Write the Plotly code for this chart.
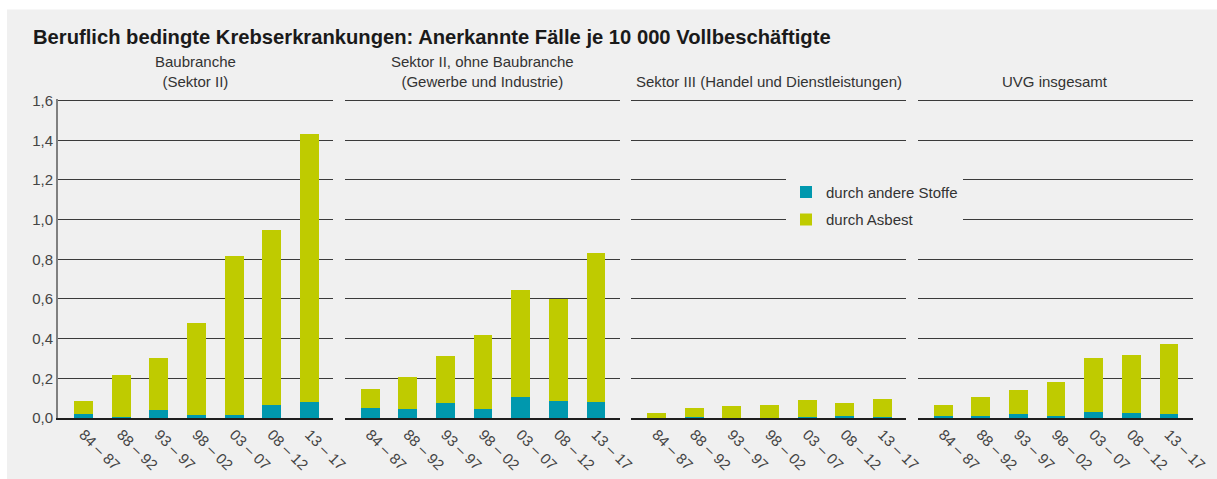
import plotly.graph_objects as go
from plotly.subplots import make_subplots

# Periods shown on each panel's x axis
periods = ["84 – 87", "88 – 92", "93 – 97", "98 – 02", "03 – 07", "08 – 12", "13 – 17"]

panel_titles = [
    "Baubranche<br>(Sektor II)",
    "Sektor II, ohne Baubranche<br>(Gewerbe und Industrie)",
    "Sektor III (Handel und Dienstleistungen)",
    "UVG insgesamt",
]

# Recognised cases per 10 000 full-time workers: other substances
andere_bau = [0.022, 0.005, 0.039, 0.015, 0.015, 0.066, 0.081]
andere_sek2 = [0.051, 0.044, 0.074, 0.044, 0.105, 0.085, 0.080]
andere_sek3 = [0.002, 0.004, 0.002, 0.002, 0.004, 0.010, 0.004]
andere_uvg = [0.012, 0.012, 0.022, 0.012, 0.032, 0.027, 0.022]

# Recognised cases per 10 000 full-time workers: asbestos
asbest_bau = [0.063, 0.211, 0.265, 0.466, 0.800, 0.884, 1.352]
asbest_sek2 = [0.094, 0.162, 0.238, 0.375, 0.542, 0.513, 0.753]
asbest_sek3 = [0.022, 0.045, 0.057, 0.062, 0.086, 0.064, 0.091]
asbest_uvg = [0.055, 0.096, 0.121, 0.172, 0.268, 0.289, 0.350]

andere_all = [andere_bau, andere_sek2, andere_sek3, andere_uvg]
asbest_all = [asbest_bau, asbest_sek2, asbest_sek3, asbest_uvg]

# a little headroom so the 1,6 gridline is still drawn
Y_RANGE = [0, 1.608]

TEAL = "#0098ae"
GREEN = "#bfcb00"
BG = "#f0f0f0"
GRID = "#3a3a3a"
FONT = "Liberation Sans"

W, H = 1217, 479
M_L, M_R, M_T, M_B = 58, 24, 99.4, 61
PW, PH = W - M_L - M_R, H - M_T - M_B

fig = make_subplots(rows=1, cols=4, shared_yaxes=True, horizontal_spacing=0.0097)

for i in range(4):
    fig.add_trace(
        go.Bar(
            x=periods, y=andere_all[i], marker_color=TEAL, marker_line_width=0,
            name="durch andere Stoffe", legendgroup="andere", showlegend=(i == 0),
        ),
        row=1, col=i + 1,
    )
    fig.add_trace(
        go.Bar(
            x=periods, y=asbest_all[i], marker_color=GREEN, marker_line_width=0,
            name="durch Asbest", legendgroup="asbest", showlegend=(i == 0),
        ),
        row=1, col=i + 1,
    )

fig.update_xaxes(
    type="category", range=[-0.68, 6.64], tickangle=45, ticks="",
    showgrid=False, showline=True, linecolor="#1e1e1e", linewidth=2,
    tickfont=dict(family=FONT, size=15, color="#444444"), automargin=False,
)
fig.update_yaxes(
    range=Y_RANGE, dtick=0.2, tickformat=".1f", ticks="",
    showgrid=True, gridcolor=GRID, gridwidth=1, zeroline=False,
    tickfont=dict(family=FONT, size=15, color="#444444"), automargin=False,
)
fig.update_yaxes(showline=True, linecolor="#808080", linewidth=2, row=1, col=1)

# Panel headings, bottom-aligned above each subplot
for i, t in enumerate(panel_titles):
    xa = fig.layout["xaxis" if i == 0 else f"xaxis{i + 1}"]
    d = xa.domain
    fig.add_annotation(
        text=t, xref="paper", yref="paper", x=(d[0] + d[1]) / 2, y=(418 - 92) / PH,
        xanchor="center", yanchor="bottom", showarrow=False,
        font=dict(family=FONT, size=15, color="#333333"),
    )

# Grey card behind the whole chart
fig.add_shape(
    type="rect", xref="paper", yref="paper", layer="below",
    x0=-51 / PW, x1=(W - M_L) / PW, y0=-M_B / PH - 0.01, y1=(418 - 10) / PH,
    fillcolor=BG, line_width=0,
)

fig.update_layout(
    width=W, height=H,
    margin=dict(l=M_L, r=M_R, t=M_T, b=M_B),
    paper_bgcolor="white", plot_bgcolor="rgba(0,0,0,0)",
    barmode="stack", bargap=0.5,
    separators=",.",
    font=dict(family=FONT, color="#333333"),
    title=dict(
        text="<b>Beruflich bedingte Krebserkrankungen: Anerkannte Fälle je 10 000 Vollbeschäftigte</b>",
        x=33 / W, xanchor="left", y=1 - 37 / H, yanchor="middle",
        font=dict(family=FONT, size=20.2, color="#1a1a1a"),
    ),
    legend=dict(
        x=(786 - M_L) / PW, y=(418 - 176) / PH, xanchor="left", yanchor="top",
        bgcolor=BG, traceorder="grouped", tracegroupgap=5,
        font=dict(family=FONT, size=15, color="#333333"),
    ),
)

fig.write_html("out.html")
